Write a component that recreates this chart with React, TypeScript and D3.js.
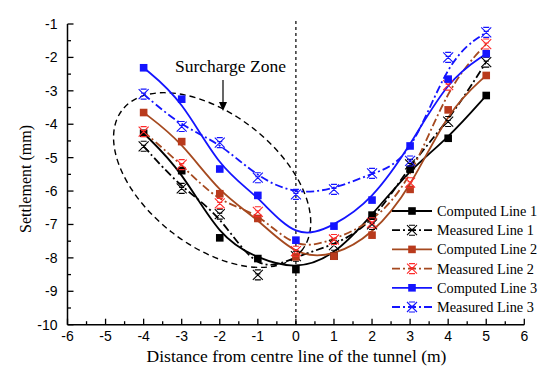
import React, { useRef, useEffect } from "react";
import * as d3 from "d3";

// distance from centre line (m)
const distances = [-4, -3, -2, -1, 0, 1, 2, 3, 4, 5];

// settlement values (mm)
const computed1 = [-4.27, -5.39, -7.4, -8.02, -8.35, -7.95, -6.72, -5.35, -4.42, -3.14];
const measured1 = [-4.66, -5.92, -6.69, -8.51, -7.95, -7.62, -7.0, -5.2, -3.92, -2.14];
const computed2 = [-3.65, -4.52, -6.08, -6.82, -7.97, -7.95, -7.32, -5.95, -3.57, -2.54];
const measured2 = [-4.22, -5.21, -6.37, -6.62, -7.8, -7.45, -6.95, -5.75, -2.83, -1.6];
const computed3 = [-2.31, -3.25, -5.34, -6.13, -7.47, -7.05, -6.27, -4.65, -2.65, -1.89];
const measured3 = [-3.1, -4.07, -4.55, -5.6, -6.1, -5.95, -5.47, -5.1, -2.0, -1.25];

const seriesNames = [
  "Computed Line 1",
  "Measured Line 1",
  "Computed Line 2",
  "Measured Line 2",
  "Computed Line 3",
  "Measured Line 3",
];

const xTicks = [-6, -5, -4, -3, -2, -1, 0, 1, 2, 3, 4, 5, 6];
const yTicks = [-10, -9, -8, -7, -6, -5, -4, -3, -2, -1];

// surcharge zone ellipse (centre in data units)
const zoneCentre = [-2.2, -5.67];

const App = () => {
  const d3Container = useRef<SVGSVGElement | null>(null);

  useEffect(() => {
    if (!d3Container.current) return;
    const svg = d3.select(d3Container.current);
    svg.selectAll("*").remove();

    const left = 67.5,
      right = 524.3,
      top = 24,
      bottom = 324.7;

    const x = d3.scaleLinear().domain([-6, 6]).range([left, right]);
    const y = d3.scaleLinear().domain([-10, -1]).range([bottom, top]);

    const sans = "'Liberation Sans', Arial, sans-serif";
    const serif = "'Liberation Serif', 'Times New Roman', serif";

    const series = [
      { name: seriesNames[0], data: computed1, line: "#000000", mark: "#000000", type: "sq", dash: null },
      { name: seriesNames[1], data: measured1, line: "#000000", mark: "#000000", type: "x", dash: "8,3,2,3" },
      { name: seriesNames[2], data: computed2, line: "#a5491f", mark: "#b93a1c", type: "sq", dash: null },
      { name: seriesNames[3], data: measured2, line: "#a5491f", mark: "#ff2a2a", type: "x", dash: "8,3,2,3" },
      { name: seriesNames[4], data: computed3, line: "#1414ff", mark: "#1414ff", type: "sq", dash: null },
      { name: seriesNames[5], data: measured3, line: "#1414ff", mark: "#1414ff", type: "x", dash: "8,3,2,3" },
    ];

    // axes
    const axisG = svg.append("g");
    axisG
      .append("line")
      .attr("x1", left)
      .attr("x2", right)
      .attr("y1", bottom)
      .attr("y2", bottom)
      .attr("stroke", "#000")
      .attr("stroke-width", 1.5);
    axisG
      .append("line")
      .attr("x1", left)
      .attr("x2", left)
      .attr("y1", top)
      .attr("y2", bottom)
      .attr("stroke", "#000")
      .attr("stroke-width", 1.5);

    // x ticks (inward)
    d3.range(-6, 6.01, 0.5).forEach((v) => {
      const major = Math.abs(v - Math.round(v)) < 1e-6;
      axisG
        .append("line")
        .attr("x1", x(v))
        .attr("x2", x(v))
        .attr("y1", bottom)
        .attr("y2", bottom - (major ? 6 : 3.5))
        .attr("stroke", "#000")
        .attr("stroke-width", 1.3);
    });
    xTicks.forEach((v) => {
      axisG
        .append("text")
        .attr("x", x(v))
        .attr("y", bottom + 16.5)
        .attr("text-anchor", "middle")
        .attr("font-family", sans)
        .attr("font-size", 14)
        .text(String(v));
    });

    // y ticks (inward)
    d3.range(-10, -0.99, 0.5).forEach((v) => {
      const major = Math.abs(v - Math.round(v)) < 1e-6;
      axisG
        .append("line")
        .attr("x1", left)
        .attr("x2", left + (major ? 6 : 3.5))
        .attr("y1", y(v))
        .attr("y2", y(v))
        .attr("stroke", "#000")
        .attr("stroke-width", 1.3);
    });
    yTicks.forEach((v) => {
      axisG
        .append("text")
        .attr("x", left - 10)
        .attr("y", y(v) + 5)
        .attr("text-anchor", "end")
        .attr("font-family", sans)
        .attr("font-size", 14)
        .text(String(v));
    });

    // axis titles
    svg
      .append("text")
      .attr("x", 296.5)
      .attr("y", 362)
      .attr("text-anchor", "middle")
      .attr("font-family", serif)
      .attr("font-size", 17.5)
      .text("Distance from centre line of the tunnel (m)");
    svg
      .append("text")
      .attr("transform", `translate(31,179) rotate(-90)`)
      .attr("text-anchor", "middle")
      .attr("font-family", serif)
      .attr("font-size", 16)
      .text("Settlement (mm)");

    // centre line
    svg
      .append("line")
      .attr("x1", x(0))
      .attr("x2", x(0))
      .attr("y1", top - 3)
      .attr("y2", bottom)
      .attr("stroke", "#000")
      .attr("stroke-width", 1.2)
      .attr("stroke-dasharray", "3,3");

    // surcharge zone
    svg
      .append("ellipse")
      .attr("transform", `translate(${x(zoneCentre[0])},${y(zoneCentre[1])}) rotate(38)`)
      .attr("rx", 114)
      .attr("ry", 66)
      .attr("fill", "none")
      .attr("stroke", "#000")
      .attr("stroke-width", 1.4)
      .attr("stroke-dasharray", "6,4");

    svg
      .append("text")
      .attr("x", 175)
      .attr("y", 72)
      .attr("font-family", serif)
      .attr("font-size", 17.5)
      .text("Surcharge Zone");
    svg
      .append("line")
      .attr("x1", 223)
      .attr("x2", 223)
      .attr("y1", 80)
      .attr("y2", 104)
      .attr("stroke", "#000")
      .attr("stroke-width", 1.2);
    svg
      .append("path")
      .attr("d", "M219,102 L223,111 L227,102 Z")
      .attr("fill", "#000");

    const line = d3
      .line<number>()
      .x((d, i) => x(distances[i]))
      .y((d) => y(d))
      .curve(d3.curveBasis);

    const drawMarker = (g: any, type: string, color: string, cx: number, cy: number) => {
      if (type === "sq") {
        g.append("rect")
          .attr("x", cx - 3.8)
          .attr("y", cy - 3.8)
          .attr("width", 7.6)
          .attr("height", 7.6)
          .attr("fill", color);
      } else {
        const s = 5;
        g.append("path")
          .attr(
            "d",
            `M${cx - s},${cy - s}L${cx + s},${cy + s}M${cx + s},${cy - s}L${cx - s},${cy + s}` +
              `M${cx - s * 0.6},${cy - s}L${cx + s * 0.6},${cy - s}M${cx - s * 0.6},${cy + s}L${cx + s * 0.6},${cy + s}` +
              `M${cx - s * 0.5},${cy - s * 0.2}L${cx + s * 0.5},${cy - s * 0.2}`
          )
          .attr("fill", "none")
          .attr("stroke", color)
          .attr("stroke-width", 1.1);
      }
    };

    const linesG = svg.append("g");
    series.forEach((s) => {
      linesG
        .append("path")
        .attr("d", line(s.data))
        .attr("fill", "none")
        .attr("stroke", s.line)
        .attr("stroke-width", 1.8)
        .attr("stroke-dasharray", s.dash);
    });
    const marksG = svg.append("g");
    series.forEach((s) => {
      s.data.forEach((v, i) => drawMarker(marksG, s.type, s.mark, x(distances[i]), y(v)));
    });

    // legend
    const legendG = svg.append("g");
    series.forEach((s, i) => {
      const ly = 211 + i * 19.2;
      legendG
        .append("line")
        .attr("x1", 392)
        .attr("x2", 432)
        .attr("y1", ly)
        .attr("y2", ly)
        .attr("stroke", s.line)
        .attr("stroke-width", 1.8)
        .attr("stroke-dasharray", s.dash);
      drawMarker(legendG, s.type, s.mark, 412, ly);
      legendG
        .append("text")
        .attr("x", 437)
        .attr("y", ly + 5)
        .attr("font-family", serif)
        .attr("font-size", 14.3)
        .text(s.name);
    });
  }, []);

  return (
    <svg
      ref={d3Container}
      width={550}
      height={377}
      style={{ position: "absolute", left: 0, top: 0, background: "#fff" }}
    />
  );
};

export default App;
